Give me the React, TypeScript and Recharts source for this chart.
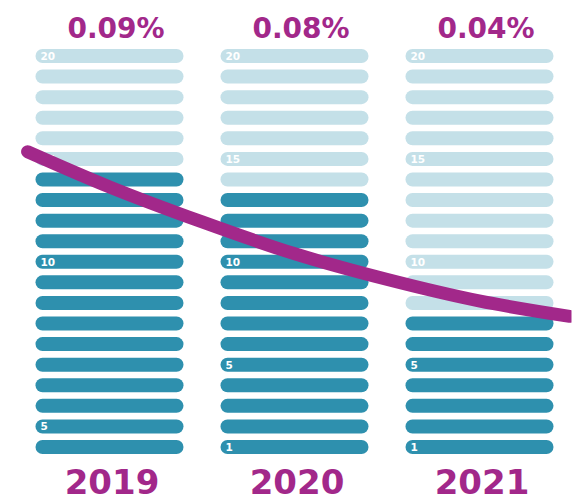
import { ComposedChart, Bar, Line, XAxis, YAxis } from "recharts";

const years = ["2019", "2020", "2021"];
const rates = ["0.09%", "0.08%", "0.04%"];
// number of dark rows per year, out of 20
const filledRows = [14, 13, 7];
const rows = Array.from({ length: 20 }, (_, i) => i + 1);

// [row, text] pairs printed inside the pills
const rowLabels2019: [number, string][] = [[20, "20"], [15, "15"], [10, "10"], [2, "5"]];
const rowLabels2020: [number, string][] = [[20, "20"], [15, "15"], [10, "10"], [5, "5"], [1, "1"]];
const rowLabels2021: [number, string][] = [[20, "20"], [15, "15"], [10, "10"], [5, "5"], [1, "1"]];
const rowLabels = [rowLabels2019, rowLabels2020, rowLabels2021];

// trend curve, x in category units (0 = 2019 centre), y in rows
const trendX = [-0.44, 0, 0.5, 1, 1.5, 2, 2.49];
const trendY = [14.85, 13.15, 11.45, 9.9, 8.65, 7.6, 6.85];

const DARK = "#2E90AE";
const LIGHT = "#C4E0E8";
const PURPLE = "#A2288A";
const FONT = "'DejaVu Sans', sans-serif";

const data = years.map((year, i) => {
  const row: Record<string, string | number> = { year, rate: rates[i] };
  rows.forEach((r) => (row["r" + r] = 1));
  return row;
});

const trend = trendX.map((x, i) => ({ x, y: trendY[i] }));

const PILL = 14;

function pillShape(row: number) {
  return (props: any) => {
    const { x, y, width, height, index } = props;
    const top = y + (height - PILL) / 2;
    const fill = row <= filledRows[index] ? DARK : LIGHT;
    const lbl = rowLabels[index].find((l) => l[0] === row);
    return (
      <g>
        <rect x={x} y={top} width={width} height={PILL} rx={PILL / 2} fill={fill} />
        {lbl && (
          <text
            x={x + 5}
            y={top + PILL / 2 + 4}
            fill="#fff"
            fontFamily={FONT}
            fontWeight="bold"
            fontSize={10.5}
          >
            {lbl[1]}
          </text>
        )}
      </g>
    );
  };
}

const RateTick = (props: any) => (
  <text
    x={props.x + 7}
    y={props.y - 8}
    textAnchor="middle"
    fill={PURPLE}
    fontFamily={FONT}
    fontWeight="bold"
    fontSize={28}
  >
    {props.payload.value}
  </text>
);

const YearTick = (props: any) => (
  <text
    x={props.x + 3}
    y={props.y + 36.5}
    textAnchor="middle"
    fill={PURPLE}
    fontFamily={FONT}
    fontWeight="bold"
    fontSize={34}
  >
    {props.payload.value}
  </text>
);

export default function App() {
  return (
    <div style={{ position: "absolute", left: 0, top: 0, width: 585, height: 502, background: "#fff" }}>
      <ComposedChart
        width={585}
        height={502}
        data={data}
        margin={{ top: 15.7, right: 13.5, bottom: 4.7, left: 16.5 }}
      >
        <XAxis
          xAxisId="cat"
          dataKey="year"
          axisLine={false}
          tickLine={false}
          tickSize={0}
          tickMargin={0}
          height={40}
          tick={<YearTick />}
          interval={0}
        />
        <XAxis
          xAxisId="pct"
          dataKey="rate"
          orientation="top"
          axisLine={false}
          tickLine={false}
          tickSize={0}
          tickMargin={0}
          height={30}
          tick={<RateTick />}
          interval={0}
        />
        <XAxis xAxisId="num" type="number" dataKey="x" domain={[-0.5, 2.5]} allowDataOverflow hide />
        <YAxis type="number" domain={[0, 20]} allowDataOverflow hide />
        {rows.map((r) => (
          <Bar
            key={r}
            xAxisId="cat"
            dataKey={"r" + r}
            stackId="s"
            barSize={148}
            shape={pillShape(r)}
            isAnimationActive={false}
          />
        ))}
        <Line
          xAxisId="num"
          data={trend}
          dataKey="y"
          type="monotone"
          stroke={PURPLE}
          strokeWidth={13}
          strokeLinecap="round"
          dot={false}
          activeDot={false}
          isAnimationActive={false}
        />
      </ComposedChart>
    </div>
  );
}
